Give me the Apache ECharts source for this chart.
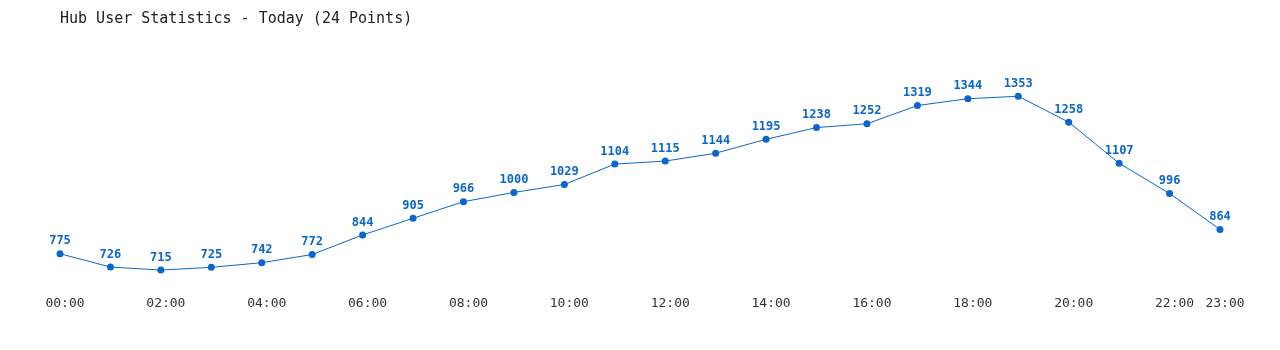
<!DOCTYPE html>
<html><head><meta charset="utf-8">
<script src="https://cdn.jsdelivr.net/npm/echarts@6/dist/echarts.min.js"></script>
<style>html,body{margin:0;padding:0;background:#fff}#c{width:1280px;height:350px}</style>
</head><body><div id="c"></div>
<script>
const titleText = "Hub User Statistics - Today (24 Points)";
const categories = ["00:00","01:00","02:00","03:00","04:00","05:00","06:00","07:00","08:00","09:00","10:00","11:00","12:00","13:00","14:00","15:00","16:00","17:00","18:00","19:00","20:00","21:00","22:00","23:00"];
const users = [775,726,715,725,742,772,844,905,966,1000,1029,1104,1115,1144,1195,1238,1252,1319,1344,1353,1258,1107,996,864];

const chart = echarts.init(document.getElementById('c'));
const mono = "'DejaVu Sans Mono', 'Liberation Mono', monospace";
chart.setOption({
  animation:false,
  title:{text:titleText,left:55,top:7,textStyle:{fontFamily:mono,fontSize:15,fontWeight:'normal',color:'#222'}},
  grid:{left:60,right:60,top:78,height:212.5},
  xAxis:{type:'category',data:categories,boundaryGap:false,
    axisLine:{show:false},axisTick:{show:false},splitLine:{show:false},
    axisLabel:{interval:0,margin:7,padding:[0,0,0,10],fontFamily:mono,fontSize:13,color:'#333',
      formatter:(v,i)=> (i%2===0||i===23)?v:''}},
  yAxis:{type:'value',min:640,max:1420,show:false,splitLine:{show:false}},
  series:[{type:'line',data:users,symbol:'circle',symbolSize:7,
    lineStyle:{color:'#0a66cc',width:1},itemStyle:{color:'#0a66cc'},
    label:{show:true,position:'top',distance:3,fontFamily:mono,fontSize:12,fontWeight:'bold',color:'#0a66cc'}}]
});
</script></body></html>
